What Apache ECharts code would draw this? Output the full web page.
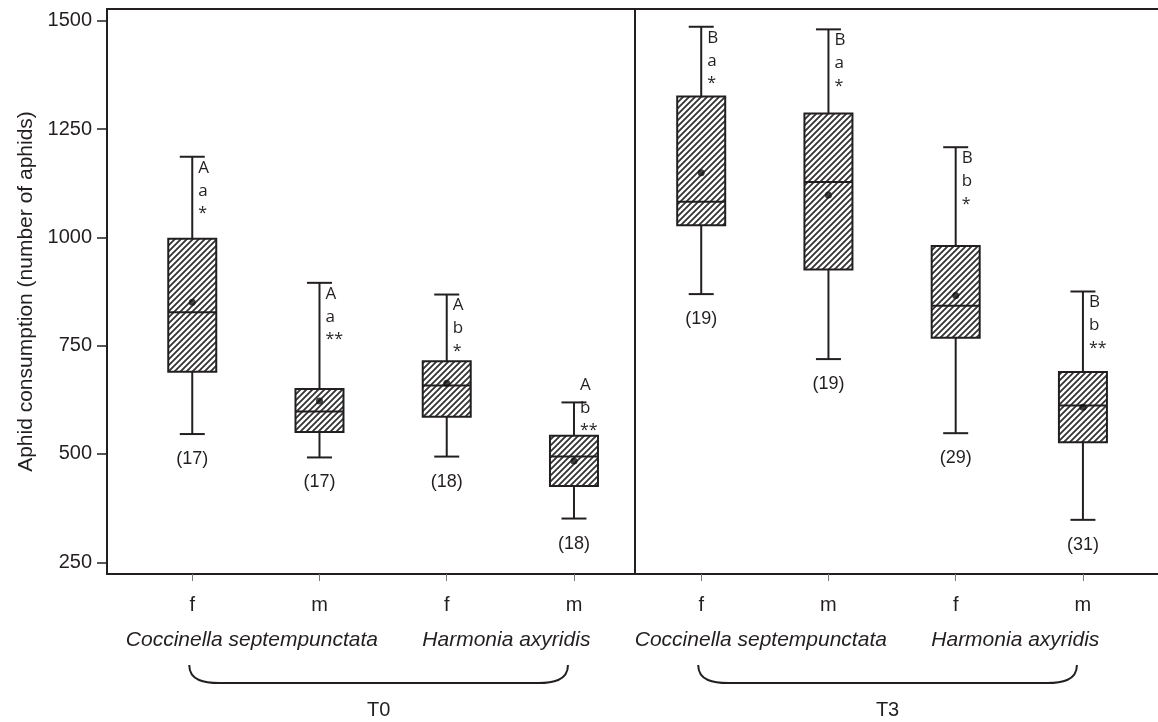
<!DOCTYPE html>
<html>
<head>
<meta charset="utf-8">
<script src="https://cdn.jsdelivr.net/npm/echarts@6/dist/echarts.min.js"></script>
<style>
  html, body { margin: 0; padding: 0; background: #fff; }
  #chart { width: 1158px; height: 722px; }
</style>
</head>
<body>
<div id="chart"></div>
<script>
// box positions 1..8 : T0 (C.s. f, C.s. m, H.a. f, H.a. m), T3 (same order)
const sexes = ['f', 'm', 'f', 'm', 'f', 'm', 'f', 'm']
const speciesNames = ['Coccinella septempunctata', 'Harmonia axyridis']
const timePoints = ['T0', 'T3']

const whiskerLow = [546, 492, 494, 351, 869, 719, 548, 348]
const q1 = [690, 551, 586, 426, 1028, 926, 768, 527]
const medians = [827, 598, 658, 494, 1082, 1128, 842, 612]
const q3 = [997, 650, 714, 542, 1325, 1286, 980, 689]
const whiskerHigh = [1186, 895, 868, 619, 1486, 1480, 1208, 875]
const means = [850, 622, 663, 484, 1149, 1098, 866, 608]
const sampleSizes = [17, 17, 18, 18, 19, 19, 29, 31]

const timeLetters = ['A', 'A', 'A', 'A', 'B', 'B', 'B', 'B']
const speciesLetters = ['a', 'a', 'b', 'b', 'a', 'a', 'b', 'b']
const sexMarks = ['*', '**', '*', '**', '*', '*', '*', '**']

const yTicks = [250, 500, 750, 1000, 1250, 1500]

const INK = '#231f20'
const SANS = '"Liberation Sans", Arial, sans-serif'
const LETTER_FONT = '"Open Sans", sans-serif'

// diagonal hatch tile
const makeHatch = () => {
  const c = document.createElement('canvas')
  c.width = 6
  c.height = 6
  const ctx = c.getContext('2d')
  ctx.strokeStyle = '#333'
  ctx.lineWidth = 1.8
  ctx.beginPath()
  ctx.moveTo(-1, 7); ctx.lineTo(7, -1)
  ctx.moveTo(-1, 1); ctx.lineTo(1, -1)
  ctx.moveTo(5, 7); ctx.lineTo(7, 5)
  ctx.stroke()
  return c
}
const hatch = makeHatch()

const boxData = sexes.map((s, i) => [i + 1, whiskerLow[i], q1[i], medians[i], q3[i], whiskerHigh[i]])
const meanData = means.map((m, i) => [i + 1, m])

const chart = echarts.init(document.getElementById('chart'))

const line = (x1, y1, x2, y2, w) => ({
  type: 'line',
  shape: { x1, y1, x2, y2 },
  style: { stroke: INK, lineWidth: w || 2 }
})

const option = {
  animation: false,
  backgroundColor: '#fff',
  grid: { left: 107, right: 0, top: 9, bottom: 148 },
  xAxis: [
    {
      type: 'value',
      min: 0.33,
      max: 8.59,
      splitLine: { show: false },
      axisLine: { lineStyle: { color: INK, width: 2 } },
      axisTick: { customValues: [1, 2, 3, 4, 5, 6, 7, 8], length: 7, lineStyle: { color: '#777', width: 1 } },
      axisLabel: {
        customValues: [1, 2, 3, 4, 5, 6, 7, 8],
        formatter: v => sexes[Math.round(v) - 1],
        margin: 21,
        fontSize: 20,
        fontFamily: SANS,
        color: INK
      }
    },
    {
      type: 'value',
      position: 'top',
      min: 0.33,
      max: 8.59,
      splitLine: { show: false },
      axisLine: { show: true, lineStyle: { color: INK, width: 2 } },
      axisTick: { show: false },
      axisLabel: { show: false }
    }
  ],
  yAxis: {
    type: 'value',
    min: 223,
    max: 1527,
    name: 'Aphid consumption (number of aphids)',
    nameLocation: 'middle',
    nameGap: 69,
    nameTextStyle: { fontSize: 21, fontFamily: SANS, color: INK },
    splitLine: { show: false },
    axisLine: { show: true, lineStyle: { color: INK, width: 2 } },
    axisTick: { customValues: yTicks, length: 10, lineStyle: { color: INK, width: 1.5 } },
    axisLabel: { customValues: yTicks, formatter: v => String(v), margin: 15, fontSize: 20, fontFamily: SANS, color: INK }
  },
  series: [
    {
      name: 'boxes',
      type: 'custom',
      data: boxData,
      renderItem: (params, api) => {
        const x = api.value(0)
        const lo = api.coord([x, api.value(1)])
        const b1 = api.coord([x, api.value(2)])
        const md = api.coord([x, api.value(3)])
        const b3 = api.coord([x, api.value(4)])
        const hi = api.coord([x, api.value(5)])
        const cx = lo[0]
        const bw = 48
        const cw = 25
        return {
          type: 'group',
          children: [
            line(cx, hi[1], cx, b3[1]),
            line(cx, b1[1], cx, lo[1]),
            line(cx - cw / 2, hi[1], cx + cw / 2, hi[1]),
            line(cx - cw / 2, lo[1], cx + cw / 2, lo[1]),
            {
              type: 'rect',
              shape: { x: cx - bw / 2, y: b3[1], width: bw, height: b1[1] - b3[1] },
              style: { fill: { image: hatch, repeat: 'repeat' }, stroke: INK, lineWidth: 2 }
            },
            line(cx - bw / 2, md[1], cx + bw / 2, md[1])
          ]
        }
      },
      markLine: {
        silent: true,
        symbol: ['none', 'none'],
        label: { show: false },
        lineStyle: { color: INK, width: 2, type: 'solid' },
        data: [{ xAxis: 4.48 }]
      },
      z: 2
    },
    {
      name: 'means',
      type: 'scatter',
      data: meanData,
      symbol: 'circle',
      symbolSize: 7,
      itemStyle: { color: '#111' },
      z: 3
    },
    {
      name: 'annotations',
      type: 'custom',
      data: boxData,
      renderItem: (params, api) => {
        const i = params.dataIndex
        const x = api.value(0)
        const lo = api.coord([x, api.value(1)])
        const b3 = api.coord([x, api.value(4)])
        const hi = api.coord([x, api.value(5)])
        const cx = lo[0]
        // stack of letters beside the upper whisker, kept clear of the box
        const y0 = Math.min(hi[1] + 11, b3[1] - 51)
        const letter = (text, y, size) => ({
          type: 'text',
          x: cx + 6,
          y,
          style: { text, fontSize: size || 17, fontFamily: LETTER_FONT, fill: INK, align: 'left', verticalAlign: 'middle' }
        })
        return {
          type: 'group',
          children: [
            letter(timeLetters[i], y0),
            letter(speciesLetters[i], y0 + 23),
            letter(sexMarks[i], y0 + 46, 16),
            {
              type: 'text',
              x: cx,
              y: lo[1] + 25,
              style: { text: '(' + sampleSizes[i] + ')', fontSize: 18, fontFamily: SANS, fill: INK, align: 'center', verticalAlign: 'middle' }
            }
          ]
        }
      },
      z: 4
    },
    {
      name: 'groups',
      type: 'custom',
      data: timePoints.map((t, k) => [k * 4 + 1, k * 4 + 4]),
      renderItem: (params, api) => {
        const k = params.dataIndex
        const first = api.coord([api.value(0), 223])
        const last = api.coord([api.value(1), 223])
        const base = first[1]
        const children = []
        speciesNames.forEach((sp, j) => {
          const a = api.coord([api.value(0) + j * 2, 223])[0]
          const b = api.coord([api.value(0) + j * 2 + 1, 223])[0]
          children.push({
            type: 'text',
            x: (a + b) / 2 - 4,
            y: base + 66,
            style: { text: sp, fontSize: 21, fontStyle: 'italic', fontFamily: SANS, fill: INK, align: 'center', verticalAlign: 'middle' }
          })
        })
        // curly bracket under the four boxes of one time point
        const x1 = first[0] - 3
        const x2 = last[0] - 6
        const yt = base + 91
        const yb = base + 109
        children.push({
          type: 'path',
          shape: {
            pathData: `M${x1} ${yt} C${x1} ${yb - 2} ${x1 + 16} ${yb} ${x1 + 30} ${yb} L${x2 - 30} ${yb} C${x2 - 16} ${yb} ${x2} ${yb - 2} ${x2} ${yt}`
          },
          style: { fill: 'none', stroke: INK, lineWidth: 2 }
        })
        children.push({
          type: 'text',
          x: (x1 + x2) / 2,
          y: base + 136,
          style: { text: timePoints[k], fontSize: 20, fontFamily: SANS, fill: INK, align: 'center', verticalAlign: 'middle' }
        })
        return { type: 'group', children }
      },
      z: 4
    }
  ]
}

chart.setOption(option)
</script>
</body>
</html>
